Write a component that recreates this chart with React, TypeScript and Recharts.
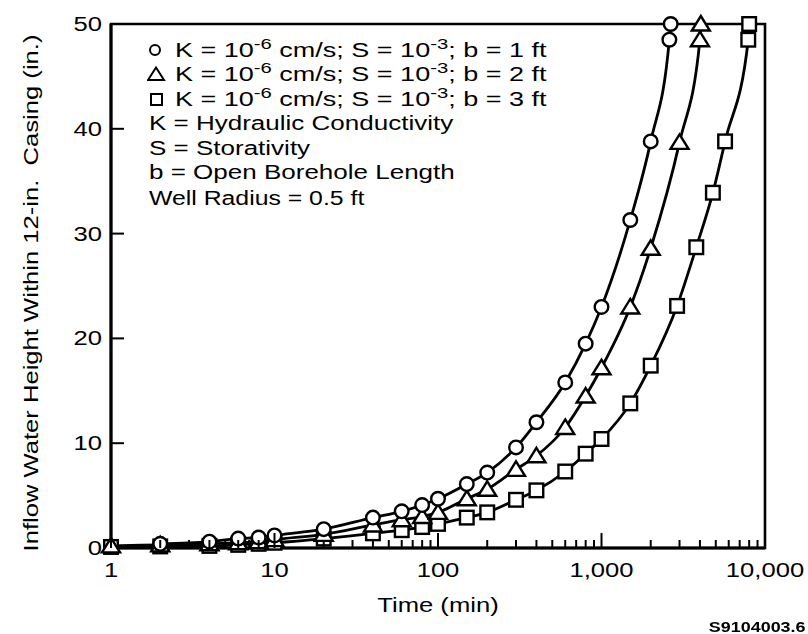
import { LineChart, Line, XAxis, YAxis, ReferenceArea } from "recharts";

// b = 1 ft (circles)
const timeB1 = [2, 4, 6, 8, 10, 20, 40, 60, 80, 100, 150, 200, 300, 400, 600, 800, 1000, 1500, 2000, 2600, 2650];
const heightB1 = [0.4, 0.6, 0.9, 1.0, 1.2, 1.8, 2.9, 3.5, 4.1, 4.7, 6.1, 7.2, 9.6, 12.0, 15.8, 19.5, 23.0, 31.3, 38.8, 48.5, 50];

// b = 2 ft (triangles)
const timeB2 = [1, 2, 4, 6, 8, 10, 20, 40, 60, 80, 100, 150, 200, 300, 400, 600, 800, 1000, 1500, 2000, 3000, 4000, 4050];
const heightB2 = [0.2, 0.3, 0.4, 0.5, 0.6, 0.8, 1.3, 2.2, 2.7, 3.0, 3.4, 4.7, 5.6, 7.5, 8.8, 11.5, 14.5, 17.2, 23.0, 28.6, 38.7, 48.5, 50];

// b = 3 ft (squares)
const timeB3 = [1, 2, 4, 6, 8, 10, 20, 40, 60, 80, 100, 150, 200, 300, 400, 600, 800, 1000, 1500, 2000, 2900, 3800, 4800, 5700, 7900, 8000];
const heightB3 = [0.1, 0.15, 0.2, 0.3, 0.4, 0.5, 0.9, 1.4, 1.7, 2.0, 2.3, 2.9, 3.4, 4.6, 5.5, 7.3, 9.0, 10.4, 13.8, 17.4, 23.1, 28.7, 33.9, 38.8, 48.5, 50];

const majorTicks = [1, 10, 100, 1000, 10000];
const xTicks = [
  1, 2, 3, 4, 5, 6, 7, 8, 9,
  10, 20, 30, 40, 50, 60, 70, 80, 90,
  100, 200, 300, 400, 500, 600, 700, 800, 900,
  1000, 2000, 3000, 4000, 5000, 6000, 7000, 8000, 9000,
  10000,
];
const yTicks = [0, 10, 20, 30, 40, 50];

const legendRuns = ["1", "2", "3"];
const notes = ["K = Hydraulic Conductivity", "S = Storativity", "b = Open Borehole Length"];

const toRows = (t: number[], h: number[]) => t.map((x, i) => ({ t: x, h: h[i] }));

const FONT = '"Liberation Sans", Arial, Helvetica, sans-serif';
const W = 808;
const H = 634;
// the scanned lettering is wider than Arial at the same height
const STRETCH = 1.28;

function CircleDot({ cx, cy }: any) {
  return <circle cx={cx} cy={cy} r={6.8} fill="#fff" stroke="#000" strokeWidth={2.4} />;
}

function TriangleDot({ cx, cy }: any) {
  const s = 9;
  return (
    <path
      d={`M${cx},${cy - s + 1} L${cx + s},${cy + s - 2.5} L${cx - s},${cy + s - 2.5} Z`}
      fill="#fff"
      stroke="#000"
      strokeWidth={2.4}
    />
  );
}

function SquareDot({ cx, cy }: any) {
  return <rect x={cx - 6.8} y={cy - 6.8} width={13.6} height={13.6} fill="#fff" stroke="#000" strokeWidth={2.4} />;
}

function XTick({ x, y, payload }: any) {
  const v = payload.value;
  const major = majorTicks.includes(v);
  return (
    <g>
      <line x1={x} y1={y} x2={x} y2={y - (major ? 15 : 8)} stroke="#000" strokeWidth={2} />
      {major && (
        <text
          transform={`translate(${x},${y + 29}) scale(${STRETCH},1)`}
          textAnchor="middle"
          fontSize={20}
          fontFamily={FONT}
          fill="#000"
        >
          {v.toLocaleString("en-US")}
        </text>
      )}
    </g>
  );
}

function YTick({ x, y, payload }: any) {
  const v = payload.value;
  const inner = v > 0 && v < 50;
  return (
    <g>
      {inner && <line x1={x} y1={y} x2={x + 13} y2={y} stroke="#000" strokeWidth={2} />}
      <text
        transform={`translate(${x - 9},${y + 7}) scale(${STRETCH},1)`}
        textAnchor="end"
        fontSize={20}
        fontFamily={FONT}
        fill="#000"
      >
        {v}
      </text>
    </g>
  );
}

function LegendMark({ kind }: { kind: string }) {
  return (
    <svg width={20} height={18} style={{ position: "absolute", left: 0, top: 3 }}>
      {kind === "1" && <circle cx={8} cy={9} r={5} fill="#fff" stroke="#000" strokeWidth={2} />}
      {kind === "2" && <path d="M9,2.5 L17,15 L1,15 Z" fill="#fff" stroke="#000" strokeWidth={2} />}
      {kind === "3" && <rect x={4} y={4} width={11} height={11} fill="#fff" stroke="#000" strokeWidth={2} />}
    </svg>
  );
}

const sup = { fontSize: 15, position: "relative" as const, top: -8 };
const wide = (s: number) => ({
  display: "inline-block",
  transform: `scaleX(${s})`,
  transformOrigin: "left center",
  whiteSpace: "pre" as const,
});

export default function App() {
  return (
    <div style={{ position: "fixed", left: 0, top: 0, width: W, height: H, background: "#fff", fontFamily: FONT }}>
      <LineChart width={W} height={H} margin={{ top: 24, right: 43, bottom: 46, left: 51 }}>
        <XAxis
          type="number"
          dataKey="t"
          scale="log"
          domain={[1, 10000]}
          ticks={xTicks}
          interval={0}
          tickSize={0}
          tickMargin={0}
          tickLine={false}
          tick={<XTick />}
          axisLine={{ stroke: "#000", strokeWidth: 3 }}
          height={40}
        />
        <YAxis
          type="number"
          dataKey="h"
          domain={[0, 50]}
          ticks={yTicks}
          interval={0}
          tickSize={0}
          tickMargin={0}
          tickLine={false}
          tick={<YTick />}
          axisLine={{ stroke: "#000", strokeWidth: 3 }}
          width={60}
        />
        <ReferenceArea x1={1} x2={10000} y1={0} y2={50} fill="none" stroke="#000" strokeWidth={2.6} />
        <Line
          data={toRows(timeB3, heightB3)}
          dataKey="h"
          type="monotone"
          stroke="#000"
          strokeWidth={2.8}
          isAnimationActive={false}
          dot={(p: any) => <SquareDot key={`s${p.index}`} cx={p.cx} cy={p.cy} />}
        />
        <Line
          data={toRows(timeB2, heightB2)}
          dataKey="h"
          type="monotone"
          stroke="#000"
          strokeWidth={2.8}
          isAnimationActive={false}
          dot={(p: any) => <TriangleDot key={`t${p.index}`} cx={p.cx} cy={p.cy} />}
        />
        <Line
          data={toRows(timeB1, heightB1)}
          dataKey="h"
          type="monotone"
          stroke="#000"
          strokeWidth={2.8}
          isAnimationActive={false}
          dot={(p: any) => <CircleDot key={`c${p.index}`} cx={p.cx} cy={p.cy} />}
        />
      </LineChart>

      <div style={{ position: "absolute", left: 147, top: 38, fontSize: 20, lineHeight: "24.4px", color: "#000" }}>
        {legendRuns.map((b) => (
          <div key={b} style={{ position: "relative", height: 24.4 }}>
            <LegendMark kind={b} />
            <span style={{ ...wide(1.35), position: "absolute", left: 28, top: 0 }}>
              K = 10<span style={sup}>-6</span> cm/s; S = 10<span style={sup}>-3</span>; b = {b} ft
            </span>
          </div>
        ))}
        {notes.map((n) => (
          <div key={n} style={{ height: 24.4, marginLeft: 2 }}>
            <span style={wide(1.3)}>{n}</span>
          </div>
        ))}
        <div style={{ height: 24.4, marginLeft: 2, marginTop: 2 }}>
          <span style={wide(1.24)}>Well Radius = 0.5 ft</span>
        </div>
      </div>

      <div
        style={{
          position: "absolute",
          left: 31,
          top: 293,
          transform: `translate(-50%, -50%) rotate(-90deg) scaleX(${STRETCH})`,
          whiteSpace: "pre",
          fontSize: 20,
          color: "#000",
        }}
      >
        Inflow Water Height Within 12-in.  Casing (in.)
      </div>

      <div
        style={{
          position: "absolute",
          left: 438,
          top: 605,
          transform: `translate(-50%, -50%) scaleX(${STRETCH})`,
          fontSize: 20,
          whiteSpace: "pre",
        }}
      >
        Time (min)
      </div>

      <div
        style={{
          position: "absolute",
          right: 2,
          top: 627,
          transform: `translateY(-50%) scaleX(${STRETCH})`,
          transformOrigin: "right center",
          fontSize: 14,
          fontWeight: "bold",
          whiteSpace: "pre",
        }}
      >
        S9104003.6
      </div>
    </div>
  );
}
